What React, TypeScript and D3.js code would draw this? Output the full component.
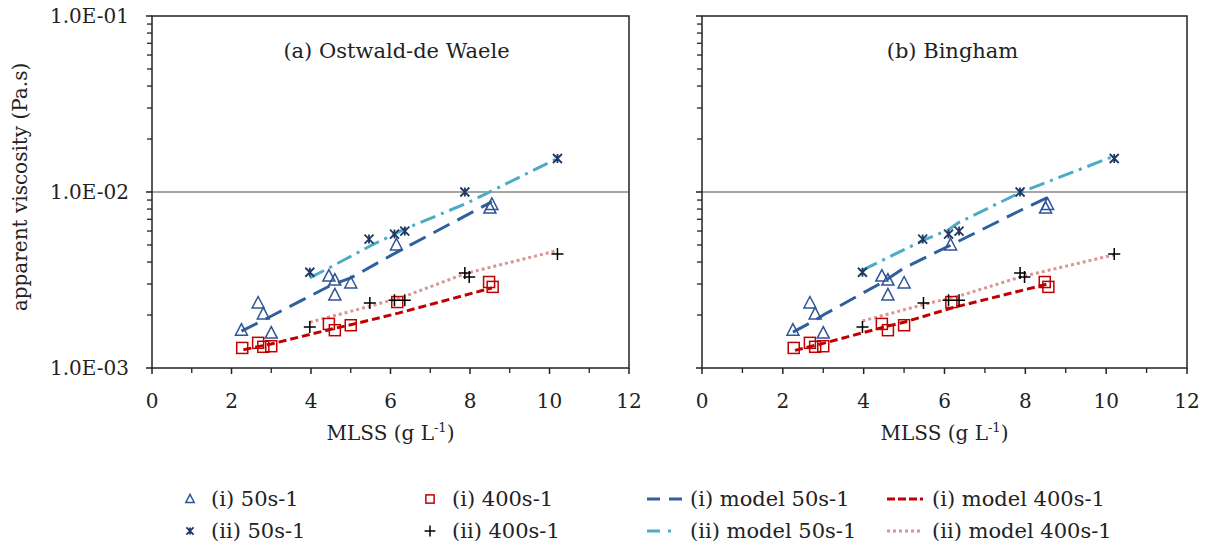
import React from "react";
import * as d3 from "d3";

type P = [number, number];

// Measured data (same in both panels)
const tri50i: P[] = [[2.25,1.64e-3],[2.67,2.34e-3],[2.8,2.03e-3],[3.0,1.58e-3],[4.45,3.33e-3],[4.6,3.16e-3],[4.6,2.6e-3],[5.0,3.04e-3],[6.15,5.0e-3],[8.5,8.1e-3],[8.55,8.5e-3]];
const star50ii: P[] = [[3.97,3.5e-3],[5.46,5.4e-3],[6.1,5.77e-3],[6.36,6.0e-3],[7.87,1.0e-2],[10.2,1.55e-2]];
const sq400i: P[] = [[2.27,1.3e-3],[2.67,1.39e-3],[2.8,1.32e-3],[3.0,1.33e-3],[4.45,1.78e-3],[4.6,1.64e-3],[5.0,1.75e-3],[6.17,2.37e-3],[8.48,3.08e-3],[8.57,2.89e-3]];
const plus400ii: P[] = [[3.97,1.71e-3],[5.48,2.34e-3],[6.1,2.43e-3],[6.36,2.43e-3],[7.87,3.46e-3],[7.98,3.29e-3],[10.2,4.44e-3]];

// Models, panel (a) Ostwald-de Waele
const modelA50i: P[] = [[2.25,1.62e-3],[2.8,1.87e-3],[4.5,2.95e-3],[5.0,3.25e-3],[6.2,4.6e-3],[8.55,8.8e-3]];
const modelA50ii: P[] = [[3.97,3.25e-3],[4.5,3.75e-3],[5.5,4.95e-3],[6.35,6.15e-3],[7.9,8.6e-3],[10.2,1.55e-2]];
const modelA400i: P[] = [[2.3,1.27e-3],[3.0,1.37e-3],[4.55,1.67e-3],[5.0,1.76e-3],[6.2,2.05e-3],[8.55,2.85e-3]];
const modelA400ii: P[] = [[3.97,1.82e-3],[5.5,2.25e-3],[6.35,2.55e-3],[7.9,3.45e-3],[10.2,4.65e-3]];

// Models, panel (b) Bingham
const modelB50i: P[] = [[2.25,1.6e-3],[2.8,1.87e-3],[3.0,2.0e-3],[4.5,3.1e-3],[5.0,3.7e-3],[6.2,5.05e-3],[7.9,7.9e-3],[8.55,9.3e-3]];
const modelB50ii: P[] = [[3.97,3.6e-3],[5.5,5.35e-3],[6.1,6.1e-3],[6.35,6.7e-3],[7.9,1.0e-2],[10.2,1.6e-2]];
const modelB400i: P[] = [[2.3,1.26e-3],[3.0,1.38e-3],[4.55,1.72e-3],[5.0,1.82e-3],[6.2,2.2e-3],[8.55,3.0e-3]];
const modelB400ii: P[] = [[3.97,1.85e-3],[5.5,2.3e-3],[6.35,2.56e-3],[7.9,3.3e-3],[10.2,4.4e-3]];

const xTicks = [0, 2, 4, 6, 8, 10, 12];
const yTicks = [1e-3, 1e-2, 1e-1];
const yTickLabels = ["1.0E-03", "1.0E-02", "1.0E-01"];

const C_TRI = "#2F5597";
const C_STAR = "#1F3864";
const C_SQ = "#C00000";
const C_PLUS = "#000000";
const C_M50I = "#2E5F9E";
const C_M50II = "#4BACC6";
const C_M400I = "#C00000";
const C_M400II = "#D99694";

const FONT = "'DejaVu Serif', serif";

type MP = { x: number; y: number; s?: number };
const Tri = ({ x, y, s = 1 }: MP) => (
  <path d={`M${x},${y - 6.5 * s} L${x + 6 * s},${y + 5 * s} L${x - 6 * s},${y + 5 * s} Z`} fill="none" stroke={C_TRI} strokeWidth={1.5} />
);
const Star = ({ x, y, s = 1 }: MP) => {
  const r = 4.5 * s;
  return <path d={`M${x - r},${y - r} L${x + r},${y + r} M${x + r},${y - r} L${x - r},${y + r} M${x},${y - r} L${x},${y + r}`} fill="none" stroke={C_STAR} strokeWidth={1.8} />;
};
const Sq = ({ x, y, s = 1 }: MP) => (
  <rect x={x - 5.5 * s} y={y - 5.5 * s} width={11 * s} height={11 * s} fill="none" stroke={C_SQ} strokeWidth={1.5} />
);
const Plus = ({ x, y, s = 1 }: MP) => (
  <path d={`M${x - 6 * s},${y} L${x + 6 * s},${y} M${x},${y - 6 * s} L${x},${y + 6 * s}`} fill="none" stroke={C_PLUS} strokeWidth={1.5} />
);

type PanelProps = {
  x0: number; x1: number; y0: number; y1: number; title: string; showY: boolean; titleDx: number;
  m50i: P[]; m50ii: P[]; m400i: P[]; m400ii: P[];
};

const Panel = ({ x0, x1, y0, y1, title, showY, titleDx, m50i, m50ii, m400i, m400ii }: PanelProps) => {
  const xs = d3.scaleLinear().domain([0, 12]).range([x0, x1]);
  const ys = d3.scaleLog().domain([1e-3, 1e-1]).range([y1, y0]);
  const line = d3.line<P>().x(d => xs(d[0])).y(d => ys(d[1]));
  const minorY: number[] = [];
  for (let e = -3; e < -1; e++) for (let k = 2; k <= 9; k++) minorY.push(k * Math.pow(10, e));
  const minorX = d3.range(1, 12, 2);
  const cx = (x0 + x1) / 2;
  return (
    <g>
      <line x1={x0} x2={x1} y1={ys(1e-2)} y2={ys(1e-2)} stroke="#888" strokeWidth={1.5} />
      <rect x={x0} y={y0} width={x1 - x0} height={y1 - y0} fill="none" stroke="#222" strokeWidth={1.5} />
      {minorY.map((v, i) => <line key={"my" + i} x1={x0 - 5} x2={x0} y1={ys(v)} y2={ys(v)} stroke="#222" strokeWidth={1.3} />)}
      {yTicks.map((v, i) => <line key={"My" + i} x1={x0 - 6} x2={x0} y1={ys(v)} y2={ys(v)} stroke="#222" strokeWidth={1.5} />)}
      {showY && yTicks.map((v, i) => (
        <text key={"yl" + i} x={x0 - 23} y={ys(v)} dy="0.35em" textAnchor="end" fontFamily={FONT} fontSize={20} fill="#222">{yTickLabels[i]}</text>
      ))}
      {xTicks.map((v, i) => <line key={"xt" + i} x1={xs(v)} x2={xs(v)} y1={y1} y2={y1 + 6} stroke="#222" strokeWidth={1.5} />)}
      {minorX.map((v, i) => <line key={"mx" + i} x1={xs(v)} x2={xs(v)} y1={y1} y2={y1 + 5} stroke="#222" strokeWidth={1.3} />)}
      {xTicks.map((v, i) => (
        <text key={"xl" + i} x={xs(v)} y={y1 + 40} textAnchor="middle" fontFamily={FONT} fontSize={20} fill="#222">{v}</text>
      ))}
      <text x={cx} y={y1 + 72} textAnchor="middle" fontFamily={FONT} fontSize={20} fill="#222">
        MLSS (g L<tspan dy={-8} fontSize={13}>-1</tspan><tspan dy={8}>)</tspan>
      </text>
      <text x={cx + titleDx} y={y0 + 42} textAnchor="middle" fontFamily={FONT} fontSize={21} fill="#222">{title}</text>

      <path d={line(m400ii) || ""} fill="none" stroke={C_M400II} strokeWidth={3} strokeDasharray="3 3" />
      <path d={line(m400i) || ""} fill="none" stroke={C_M400I} strokeWidth={3} strokeDasharray="8 4" />
      <path d={line(m50i) || ""} fill="none" stroke={C_M50I} strokeWidth={3} strokeDasharray="18 9" />
      <path d={line(m50ii) || ""} fill="none" stroke={C_M50II} strokeWidth={3} strokeDasharray="16 6 3 6" />

      {tri50i.map((d, i) => <Tri key={"t" + i} x={xs(d[0])} y={ys(d[1])} />)}
      {star50ii.map((d, i) => <Star key={"s" + i} x={xs(d[0])} y={ys(d[1])} />)}
      {sq400i.map((d, i) => <Sq key={"q" + i} x={xs(d[0])} y={ys(d[1])} />)}
      {plus400ii.map((d, i) => <Plus key={"p" + i} x={xs(d[0])} y={ys(d[1])} />)}
    </g>
  );
};

const legendItems = [
  { label: "(i) 50s-1", kind: "tri", col: 0, row: 0 },
  { label: "(ii) 50s-1", kind: "star", col: 0, row: 1 },
  { label: "(i) 400s-1", kind: "sq", col: 1, row: 0 },
  { label: "(ii) 400s-1", kind: "plus", col: 1, row: 1 },
  { label: "(i) model 50s-1", kind: "m50i", col: 2, row: 0 },
  { label: "(ii) model 50s-1", kind: "m50ii", col: 2, row: 1 },
  { label: "(i) model 400s-1", kind: "m400i", col: 3, row: 0 },
  { label: "(ii) model 400s-1", kind: "m400ii", col: 3, row: 1 },
];
const symX = [190, 430, 647, 887];
const textX = [211, 452, 690, 932];
const rowY = [499, 531];

const LegendSym = ({ kind, x, y }: { kind: string; x: number; y: number }) => {
  if (kind === "tri") return <Tri x={x} y={y} s={0.7} />;
  if (kind === "star") return <Star x={x} y={y} s={0.8} />;
  if (kind === "sq") return <Sq x={x} y={y} s={0.75} />;
  if (kind === "plus") return <Plus x={x} y={y} s={0.9} />;
  const st: Record<string, [string, string]> = {
    m50i: [C_M50I, "13 9"],
    m50ii: [C_M50II, "13 8 3 20"],
    m400i: [C_M400I, "8 3"],
    m400ii: [C_M400II, "3 3"],
  };
  const [c, da] = st[kind];
  return <line x1={x} x2={x + 36} y1={y} y2={y} stroke={c} strokeWidth={3} strokeDasharray={da} />;
};

export default function App() {
  return (
    <svg width={1208} height={545} style={{ display: "block", position: "absolute", left: 0, top: 0, background: "#fff" }}>
      <rect width={1208} height={545} fill="#fff" />
      <text transform="translate(27,187) rotate(-90)" textAnchor="middle" fontFamily={FONT} fontSize={20} fill="#222">apparent viscosity (Pa.s)</text>
      <Panel x0={152} x1={629} y0={16} y1={368} title="(a) Ostwald-de Waele" showY={true} titleDx={6}
        m50i={modelA50i} m50ii={modelA50ii} m400i={modelA400i} m400ii={modelA400ii} />
      <Panel x0={702} x1={1187} y0={16} y1={368} title="(b) Bingham" showY={false} titleDx={8}
        m50i={modelB50i} m50ii={modelB50ii} m400i={modelB400i} m400ii={modelB400ii} />
      {legendItems.map((it, i) => {
        const y = rowY[it.row];
        return (
          <g key={i}>
            <LegendSym kind={it.kind} x={symX[it.col]} y={y} />
            <text x={textX[it.col]} y={y} dy="0.35em" fontFamily={FONT} fontSize={21} fill="#222">{it.label}</text>
          </g>
        );
      })}
    </svg>
  );
}
